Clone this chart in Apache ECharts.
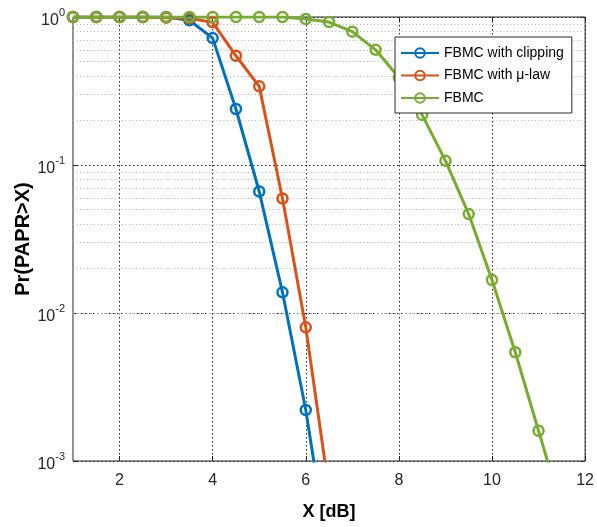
<!DOCTYPE html>
<html><head><meta charset="utf-8">
<script src="https://cdn.jsdelivr.net/npm/echarts@6/dist/echarts.min.js"></script>
<style>html,body{margin:0;padding:0;background:#fff}#c{width:597px;height:527px}</style>
</head><body><div id="c"></div>
<script>
var xShort = [1,1.5,2,2.5,3,3.5,4,4.5,5,5.5,6,6.5];
var clipping = [1,1,1,1,1,0.95,0.72,0.239,0.0662,0.0138,0.00221,0.00022];
var mulaw = [1,1,1,1,0.99,0.98,0.92,0.547,0.34,0.0594,0.0080,0.00063];
var xLong = [1,1.5,2,2.5,3,3.5,4,4.5,5,5.5,6,6.5,7,7.5,8,8.5,9,9.5,10,10.5,11,11.5];
var fbmc = [1,1,1,1,1,1,1,1,1,1,0.97,0.925,0.796,0.60,0.39,0.218,0.107,0.0466,0.0167,0.00543,0.0016,0.00047];
var seriesNames = ['FBMC with clipping','FBMC with \u03bc-law','FBMC'];
var xTicks = [2,4,6,8,10,12];
var yMinorGrid = [];
[0.001,0.01,0.1].forEach(function(d){for(var k=2;k<=9;k++){yMinorGrid.push(+(d*k).toPrecision(3));}});

var FONT = 'Liberation Sans, Arial, sans-serif';
function pairs(xs, ys){return xs.map(function(x,i){return [x, ys[i]];});}
var colors = ['#0072BD','#D95319','#77AC30'];
function lineSeries(name, data, color){
  return {name:name, type:'line', data:data, color:color, symbol:'circle', symbolSize:10,
    lineStyle:{width:3,color:color}, itemStyle:{color:'rgba(255,255,255,0)', borderWidth:2.5, borderColor:color},
    clip:true, z:5, animation:false};
}
var chart = echarts.init(document.getElementById('c'), null, {renderer:'canvas'});
var yLabel = {
  show:true, margin:8, fontFamily:FONT, color:'#262626',
  formatter:function(v){var e=Math.round(Math.log10(v));return '{b|10}{s|'+e+'}';},
  rich:{b:{fontSize:16,fontFamily:FONT,color:'#262626',padding:[8,0,0,0]},
        s:{fontSize:11,fontFamily:FONT,color:'#262626',padding:[0,0,8,0]}}
};
chart.setOption({
  animation:false,
  backgroundColor:'#fff',
  grid:{left:73,right:9,top:17,bottom:66,show:true,borderColor:'#262626',borderWidth:1,backgroundColor:'#fff'},
  legend:{
    orient:'vertical', left:395, top:37, z:20,
    data:seriesNames,
    backgroundColor:'#fff', borderColor:'#262626', borderWidth:1,
    padding:[8,8,7,5], itemGap:6.5, itemWidth:38, itemHeight:12,
    textStyle:{fontFamily:FONT,fontSize:14,color:'#000',lineHeight:16}
  },
  xAxis:[{
    type:'value', min:1, max:12,
    name:'X [dB]', nameLocation:'middle', nameGap:42, nameMoveOverlap:false,
    nameTextStyle:{fontFamily:FONT,fontSize:18,fontWeight:'bold',color:'#000'},
    axisLine:{show:false},
    axisTick:{show:true,inside:true,length:5,customValues:xTicks,lineStyle:{color:'#262626'}},
    axisLabel:{show:true,customValues:xTicks,fontFamily:FONT,fontSize:16,color:'#262626',margin:12},
    splitLine:{show:true,lineStyle:{color:'#262626',type:[1.5,2.5],width:1}}
  },{
    type:'value', min:1, max:12, position:'top',
    axisLine:{show:false},
    axisTick:{show:true,inside:true,length:5,customValues:xTicks,lineStyle:{color:'#262626'}},
    axisLabel:{show:false}, splitLine:{show:false}
  }],
  yAxis:[{
    type:'log', logBase:10, min:0.001, max:1,
    name:'Pr(PAPR>X)', nameLocation:'middle', nameGap:40, nameMoveOverlap:false,
    nameTextStyle:{fontFamily:FONT,fontSize:20,fontWeight:'bold',color:'#000'},
    axisLine:{show:false},
    axisTick:{show:true,inside:true,length:5,lineStyle:{color:'#262626'}},
    axisLabel:yLabel,
    splitLine:{show:true,lineStyle:{color:'#262626',type:[1.5,2.5],width:1}}
  },{
    type:'log', logBase:10, min:0.001, max:1, position:'right',
    axisLine:{show:false},
    axisTick:{show:true,inside:true,length:5,lineStyle:{color:'#262626'}},
    axisLabel:{show:false}, splitLine:{show:false}
  }],
  series:[
    {type:'line', data:[], silent:true, z:1,
     markLine:{silent:true, symbol:['none','none'], label:{show:false}, animation:false,
       lineStyle:{color:'#b0b0b0',type:[1,2.5],width:1},
       data:yMinorGrid.map(function(v){return {yAxis:v};})}},
    lineSeries(seriesNames[0], pairs(xShort, clipping), colors[0]),
    lineSeries(seriesNames[1], pairs(xShort, mulaw), colors[1]),
    lineSeries(seriesNames[2], pairs(xLong, fbmc), colors[2])
  ]
});
</script></body></html>
